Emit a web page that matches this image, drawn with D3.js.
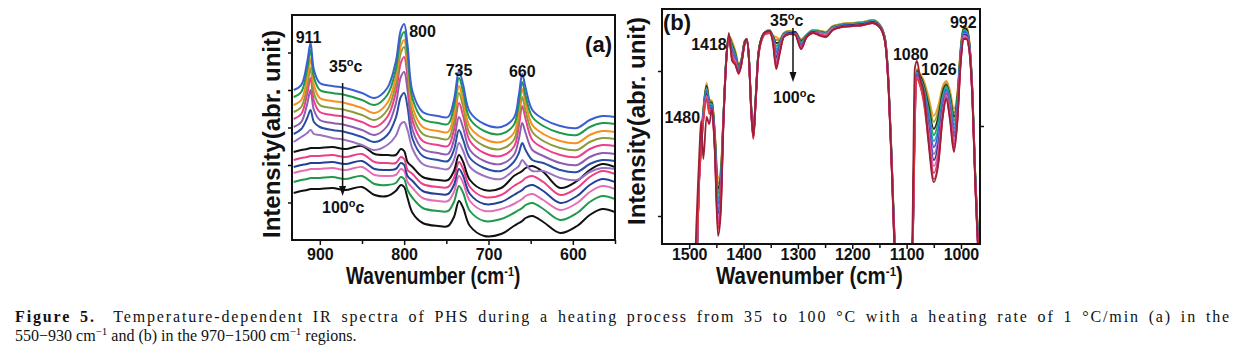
<!DOCTYPE html>
<html>
<head>
<meta charset="utf-8">
<script src="https://cdn.jsdelivr.net/npm/d3@7"></script>
<style>
body { margin: 0; background: #fff; }
svg text { font-family: Arial, "Liberation Sans", sans-serif; font-weight: bold; fill: #111; }
.caption text { font-family: "Times New Roman", "Liberation Serif", serif; font-weight: normal; }
.axis path { display: none; }
.axis line { stroke: #111; stroke-width: 1.5; }
</style>
</head>
<body>
<svg id="chart" width="1245" height="352"></svg>
<script>
// ---- panel (a): 550-930 cm-1, 35 -> 100 C, spectra stacked ----
var aWn = [931,922,915,911,907,900,885,870,850,835,820,810,804,800,796,790,778,760,748,741,735,730,722,705,685,670,664,660,656,648,635,615,595,580,565,550];

var a35  = [150,155,178,197,170,157,154,152,147,142,152,178,210,216,195,148,128,124,123,140,169,155,128,116,113,122,145,166,152,130,121,114,112,120,124,123];
var a40  = [143,148,171,190,163,150,147,145,140,135,145,170,202,208,187,141,121,117,116,133,162,148,121,109,106,115,137,158,144,123,114,107,105,113,117,116];
var a45  = [135,140,162,181,155,142,139,137,132,127,137,162,194,200,179,133,113,109,108,125,154,140,113,101,98,107,130,151,137,115,106,99,97,105,109,108];
var a50  = [128,133,154,172,147,135,132,130,125,120,130,155,187,193,172,126,106,102,101,118,147,133,106,94,91,100,122,143,129,108,99,92,90,98,102,101];
var a55  = [121,126,146,162,139,128,125,123,118,113,123,147,177,183,163,119,99,95,94,110,137,124,99,87,84,93,114,134,121,100,92,85,83,91,95,94];
var a60  = [113,118,136,150,130,120,117,115,110,105,114,136,163,168,150,110,91,87,86,100,123,112,90,79,76,85,101,117,107,90,84,77,75,83,87,86];
var a65  = [106,111,122,130,118,113,110,108,103,98,105,122,143,147,133,101,84,80,79,90,110,100,82,72,69,78,87,97,90,80,77,70,68,76,80,79];
var a70  = [98,103,107,110,106,105,102,100,95,90,95,104,116,118,110,91,76,72,71,80,97,89,73,64,61,70,74,80,76,69,69,62,60,68,72,71];
var a75  = [88,90,91,92,92,92,93,91,94,86,85,85,91,89,78,73,63,60,60,69,85,78,60,50,52,64,67,69,72,74,68,52,59,70,76,73];
var a80  = [80,82,83,84,84,84,85,83,86,78,77,77,83,81,70,66,56,53,53,62,78,71,53,43,45,54,57,59,62,64,58,45,52,63,69,66];
var a85  = [73,75,76,77,77,77,78,76,79,71,70,71,77,75,64,59,49,46,46,55,71,64,46,36,38,45,48,50,53,55,49,37,44,55,61,58];
var a90  = [67,69,70,71,71,71,72,70,73,65,64,65,71,69,58,52,42,39,39,48,64,57,39,29,31,36,39,41,44,46,40,30,37,48,54,51];
var a95  = [58,60,61,62,62,62,63,61,64,56,55,57,63,61,50,42,32,29,29,38,54,47,29,19,21,27,30,32,35,37,31,20,27,38,44,41];
var a100 = [47,49,50,51,51,51,52,50,53,45,44,49,55,53,42,27,17,14,14,23,39,32,14,4,6,14,17,19,22,24,18,7,14,25,31,28];

var aColors = ["#3a5fd0","#1f9a4b","#f7901e","#8c9c3c","#ec3f8c","#8e5cb0","#2a4ea3","#9a72c4","#111111","#ec3f86","#233f98","#e46fb5","#1f9a4b","#111111"];
var aTicks = [900, 800, 700, 600];
var aMinor = [850, 750, 650, 550];
var aYTicks = [37.5, 75, 112.5, 150, 187.5];

// ---- panel (b): 970-1500 cm-1, overlapping spectra ----
var bWn = [1555,1492,1486,1481,1478,1474,1468,1463,1458,1453,1447,1442,1437,1432,1427,1421,1415,1409,1404,1398,1394,1390,1386,1382,1378,1373,1366,1360,1352,1346,1340,1334,1326,1316,1305,1294,1285,1272,1258,1248,1236,1220,1200,1180,1163,1150,1140,1133,1127,1121,1110,1095,1089,1085,1081,1075,1068,1060,1050,1041,1034,1027,1020,1013,1007,1000,995,990,985,979,974,968,960];

var b0  = [-85,-55,-10,80,105,135,161,145,143,115,65,75,130,185,208,203,193,180,185,203,205,187,140,112,145,190,208,212,214,209,207,205,211,213,212,205,209,214,213,212,218,220,221,222,224,220,207,160,80,-10,-75,-75,-10,145,175,170,163,148,128,140,157,163,153,135,150,200,218,217,205,155,75,0,-55];
var b1  = [-85,-55,-10,79,104,134,159,144,142,113,60,71,129,185,208,201,192,179,184,203,205,187,139,111,144,190,208,212,214,208,204,204,211,213,212,204,209,214,213,212,218,220,221,222,224,220,207,159,79,-11,-75,-75,-10,142,174,169,161,144,122,135,154,161,150,131,147,199,217,216,204,154,74,-1,-55];
var b2  = [-85,-55,-10,78,103,133,158,142,141,111,55,67,128,184,207,199,190,178,184,202,204,186,139,111,143,189,207,212,213,208,201,202,210,212,212,203,208,213,212,211,217,219,220,221,223,219,206,159,78,-12,-75,-75,-11,139,173,168,158,139,115,129,151,159,147,127,144,197,215,215,203,153,73,-2,-55];
var b3  = [-85,-55,-10,77,102,131,156,141,140,109,50,63,127,184,207,198,189,177,183,202,204,186,138,110,143,189,207,211,213,207,198,201,210,212,211,202,208,213,212,211,217,219,220,221,223,219,206,158,77,-13,-75,-75,-11,136,172,166,156,135,109,124,147,158,145,123,141,196,214,213,202,152,72,-3,-55];
var b4  = [-85,-55,-10,76,101,130,155,139,139,107,45,59,126,183,207,196,188,176,183,201,204,185,137,109,142,188,207,211,213,207,195,199,209,212,211,201,208,213,211,210,216,219,220,221,223,219,205,157,76,-14,-75,-75,-12,133,171,165,154,131,103,118,144,156,142,119,138,194,213,212,201,151,71,-4,-55];
var b5  = [-85,-55,-10,75,100,129,153,138,138,105,40,55,125,183,206,194,187,175,182,201,203,185,137,109,141,188,206,211,212,206,192,198,209,211,211,200,207,212,211,210,216,218,219,220,222,218,205,157,75,-15,-75,-75,-12,130,170,164,152,127,97,113,141,154,139,115,135,193,212,211,200,150,70,-5,-55];
var b6  = [-85,-55,-10,74,99,128,151,136,137,103,35,51,124,182,206,192,185,174,181,201,203,185,136,108,140,187,206,211,212,205,189,196,209,211,211,199,207,212,211,210,216,218,219,220,222,218,205,156,74,-16,-75,-75,-13,127,169,163,149,122,90,107,138,152,136,111,132,191,210,210,199,149,69,-6,-55];
var b7  = [-85,-55,-10,73,98,127,150,135,136,101,30,47,123,182,206,190,184,173,181,200,203,184,135,107,139,187,206,211,212,205,186,195,208,211,211,198,207,212,210,209,215,218,219,220,222,218,204,155,73,-17,-75,-75,-13,124,168,162,147,118,84,102,135,150,133,107,129,190,209,209,198,148,68,-7,-55];
var b8  = [-85,-55,-10,72,97,125,148,133,135,99,25,43,122,181,205,189,183,172,180,200,202,184,134,106,139,186,205,210,211,204,183,193,208,210,210,197,206,211,210,209,215,217,218,219,221,217,204,154,72,-18,-75,-75,-14,121,167,160,145,114,78,96,131,149,131,103,126,188,208,207,197,147,67,-8,-55];
var b9  = [-85,-55,-10,71,96,124,146,132,134,97,20,39,121,181,205,187,181,171,180,199,202,183,134,106,138,186,205,210,211,204,180,192,207,210,210,196,206,211,209,208,214,217,218,219,221,217,203,154,71,-19,-75,-75,-14,118,166,159,142,109,71,91,128,147,128,99,123,187,206,206,196,146,66,-9,-55];
var b10 = [-85,-55,-10,70,95,123,145,130,133,95,15,35,120,180,205,185,180,170,179,199,202,183,133,105,137,185,205,210,211,203,177,190,207,210,210,195,206,211,209,208,214,217,218,219,221,217,203,153,70,-20,-75,-75,-15,115,165,158,140,105,65,85,125,145,125,95,120,185,205,205,195,145,65,-10,-55];
var b11 = [-85,-45,30,95,123,85,127,120,135,95,8,30,120,181,211,183,179,171,180,201,205,185,135,108,141,187,207,212,213,201,175,189,207,210,209,195,206,211,208,207,214,217,218,219,221,217,203,153,70,-20,-75,-75,25,175,183,165,150,103,62,83,125,145,123,92,120,185,205,205,195,145,65,-10,-55];

var bColors = ["#f39a2b","#a0a030","#222222","#22a050","#20a8c0","#3060d0","#9a70d0","#2a3a9a","#e868a8","#d0409a","#e03a3a","#9b1f3a"];
var bTicks = [1500, 1400, 1300, 1200, 1100, 1000];
var bMinor = [1450, 1350, 1250, 1150, 1050];
var bYTicksLeft = [28, 173];
var bYTicksRight = [118];

var svg = d3.select("#chart");

function sup(t, base, s) {
    t.append("tspan").text(base);
    t.append("tspan").attr("baseline-shift", "super").attr("font-size", s).text("o");
}

function panel(p) {
    var x = d3.scaleLinear().domain(p.xDomain).range([p.left, p.right]);
    var y = d3.scaleLinear().domain(p.yDomain).range([p.bottom, p.top]);
    var g = svg.append("g").attr("id", p.id);

    g.append("clipPath").attr("id", p.id + "-clip").append("rect")
        .attr("x", p.left).attr("y", p.top)
        .attr("width", p.right - p.left).attr("height", p.bottom - p.top);

    var line = d3.line()
        .x((d) => x(d[0]))
        .y((d) => y(d[1]))
        .curve(p.curve);

    // draw last series first so the lowest temperature ends on top
    var order = p.series.map((s, i) => i).reverse();
    if (p.keepOrder) order.reverse();

    g.append("g").attr("clip-path", "url(#" + p.id + "-clip)")
        .selectAll("path").data(order).enter().append("path")
        .attr("d", (i) => line(d3.zip(p.wn, p.series[i])))
        .attr("fill", "none")
        .attr("stroke", (i) => p.colors[i])
        .attr("stroke-width", p.lw)
        .attr("stroke-linejoin", "round");

    g.append("g").attr("class", "axis")
        .attr("transform", "translate(0," + p.bottom + ")")
        .call(d3.axisBottom(x).tickValues(p.ticks).tickSize(5).tickPadding(p.pad).tickFormat(d3.format("d")))
        .selectAll("text").attr("font-size", 16).attr("fill", "#111");

    g.append("g").attr("class", "axis")
        .attr("transform", "translate(0," + p.bottom + ")")
        .call(d3.axisBottom(x).tickValues(p.minor).tickSize(4).tickFormat(""));

    g.append("g").attr("class", "axis")
        .attr("transform", "translate(" + p.left + ",0)")
        .call(d3.axisLeft(y).tickValues(p.yTicks).tickSize(4).tickFormat(""));

    if (p.yTicksRight) {
        g.append("g").attr("class", "axis")
            .attr("transform", "translate(" + p.right + ",0)")
            .call(d3.axisRight(y).tickValues(p.yTicksRight).tickSize(4).tickFormat(""));
    }

    g.append("rect")
        .attr("x", p.left).attr("y", p.top)
        .attr("width", p.right - p.left).attr("height", p.bottom - p.top)
        .attr("fill", "none").attr("stroke", "#111").attr("stroke-width", 2);

    // axis title, squeezed sideways like the printed figure
    var xt = g.append("text")
        .attr("font-size", 23)
        .attr("transform", "translate(" + p.xTitle[0] + ",284) scale(" + p.xTitle[1] + ",1)");
    xt.append("tspan").text("Wavenumber (cm");
    xt.append("tspan").attr("dy", -8).attr("font-size", 13).text("-1");
    xt.append("tspan").attr("dy", 8).text(")");

    g.append("text")
        .attr("transform", "translate(" + p.yLabelX + "," + p.yLabelY + ") rotate(-90)")
        .attr("text-anchor", "middle").attr("font-size", 24)
        .text("Intensity(abr. unit)");

    p.labels.forEach(function(l) {
        g.append("text")
            .attr("x", x(l.wn) + (l.dx || 0)).attr("y", l.y)
            .attr("text-anchor", l.anchor || "middle")
            .attr("font-size", 16)
            .text(l.text);
    });

    g.append("text")
        .attr("x", p.tag[0]).attr("y", p.tag[1])
        .attr("text-anchor", p.tag[2]).attr("font-size", 22)
        .text(p.tagText);

    // temperature arrow
    var ax = x(p.arrow.wn);
    g.append("line")
        .attr("x1", ax).attr("x2", ax)
        .attr("y1", p.arrow.y1).attr("y2", p.arrow.y2 - 8)
        .attr("stroke", "#111").attr("stroke-width", 1.5);
    g.append("path")
        .attr("d", "M" + (ax - 3.5) + "," + (p.arrow.y2 - 10) + "L" + (ax + 3.5) + "," + (p.arrow.y2 - 10) + "L" + ax + "," + p.arrow.y2 + "Z")
        .attr("fill", "#111");

    var t1 = g.append("text").attr("x", p.t35[0]).attr("y", p.t35[1]).attr("font-size", 16);
    sup(t1, "35", 11);
    t1.append("tspan").text("c");
    var t2 = g.append("text").attr("x", p.t100[0]).attr("y", p.t100[1]).attr("font-size", 16);
    sup(t2, "100", 11);
    t2.append("tspan").text("c");
}

panel({
    id: "pa", left: 292, right: 615, top: 15, bottom: 240,
    xDomain: [933, 550], yDomain: [0, 225],
    wn: aWn,
    series: [a35, a40, a45, a50, a55, a60, a65, a70, a75, a80, a85, a90, a95, a100],
    colors: aColors, lw: 2, curve: d3.curveCatmullRom.alpha(0.5),
    ticks: aTicks, minor: aMinor, yTicks: aYTicks, pad: 4,
    xTitle: [346, 0.83],
    yLabelX: 280, yLabelY: 134,
    labels: [
        {wn: 911, y: 43, text: "911", dx: -2},
        {wn: 800, y: 37, text: "800", anchor: "start", dx: 5},
        {wn: 735, y: 76, text: "735"},
        {wn: 660, y: 77, text: "660"}
    ],
    tag: [612, 52, "end"], tagText: "(a)",
    arrow: {wn: 873, y1: 83, y2: 196},
    t35: [329, 72], t100: [322, 213]
});

panel({
    id: "pb", left: 662, right: 980, top: 9, bottom: 244,
    xDomain: [1550, 965], yDomain: [0, 235],
    wn: bWn,
    series: [b0, b1, b2, b3, b4, b5, b6, b7, b8, b9, b10, b11],
    colors: bColors, lw: 1.8, curve: d3.curveMonotoneX, keepOrder: true,
    ticks: bTicks, minor: bMinor, yTicks: bYTicksLeft, yTicksRight: bYTicksRight, pad: 0,
    xTitle: [716, 0.89],
    yLabelX: 645, yLabelY: 121,
    labels: [
        {wn: 1418, y: 50, text: "1418", anchor: "end", dx: -7},
        {wn: 1480, y: 123, text: "1480", anchor: "end", dx: 0},
        {wn: 1080, y: 60, text: "1080", anchor: "end", dx: 11},
        {wn: 1026, y: 75, text: "1026", dx: -8},
        {wn: 992, y: 28, text: "992", dx: -2}
    ],
    tag: [663, 30, "start"], tagText: "(b)",
    arrow: {wn: 1309, y1: 28, y2: 82},
    t35: [770, 26], t100: [773, 103]
});

// ---- caption ----
var cap = svg.append("g").attr("class", "caption");
var l1 = cap.append("text").attr("x", 15).attr("y", 322).attr("font-size", 16);
l1.append("tspan").attr("font-weight", "bold").text("Figure 5.");
l1.append("tspan").text("\u00a0 Temperature-dependent IR spectra of PHS during a heating process from 35 to 100 \u00b0C with a heating rate of 1 \u00b0C/min (a) in the");
// justify the first line: a little extra per word gap, the rest spread over letters
var fullText = l1.text();
var gaps = fullText.split(" ").length - 1;
var natural = l1.node().getComputedTextLength();
var wordExtra = 3;
var letterExtra = (1213 - natural - wordExtra * gaps) / fullText.length;
l1.attr("word-spacing", wordExtra).attr("letter-spacing", Math.max(0, letterExtra));

var l2 = cap.append("text").attr("x", 15).attr("y", 341).attr("font-size", 16);
l2.append("tspan").text("550\u2212930 cm");
l2.append("tspan").attr("baseline-shift", "super").attr("font-size", 11).text("\u22121");
l2.append("tspan").text(" and (b) in the 970\u22121500 cm");
l2.append("tspan").attr("baseline-shift", "super").attr("font-size", 11).text("\u22121");
l2.append("tspan").text(" regions.");
</script>
</body>
</html>
